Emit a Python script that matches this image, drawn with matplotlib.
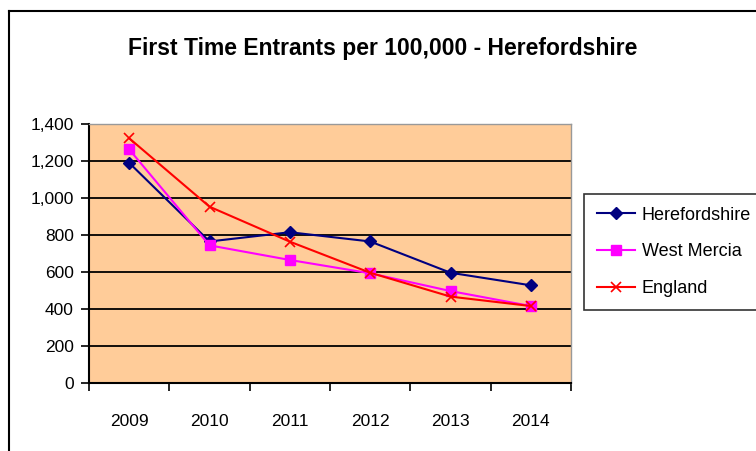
import numpy as np
import matplotlib
matplotlib.use('Agg')
import matplotlib.pyplot as plt
from matplotlib.lines import Line2D
from matplotlib.ticker import FuncFormatter, FixedLocator

plt.rcParams['font.family'] = ['Liberation Sans', 'DejaVu Sans']

years = ['2009', '2010', '2011', '2012', '2013', '2014']
herefordshire = [1190, 765, 815, 765, 596, 528]
west_mercia = [1263, 744, 665, 593, 497, 416]
england = [1323, 953, 764, 596, 467, 416]

fig = plt.figure(figsize=(7.56, 4.51), dpi=100)
ax = fig.add_axes([89 / 756, 1 - 383 / 451, 482 / 756, 259 / 451])

x = np.arange(len(years))
ax.set_facecolor('#FFCC99')
ax.plot(x, herefordshire, color='#000080', marker='D', markersize=6.5, lw=1.5, label='Herefordshire', zorder=4)
ax.plot(x, west_mercia, color='#FF00FF', marker='s', markersize=6.5, lw=1.5, label='West Mercia', zorder=4)
ax.plot(x, england, color='#FF0000', marker='x', markersize=7, mew=1.2, lw=1.5, label='England', zorder=5)

ax.set_xlim(-0.5, len(years) - 0.5)
ax.set_ylim(0, 1400)
ax.set_yticks(range(0, 1401, 200))
ax.yaxis.set_major_formatter(FuncFormatter(lambda v, p: f'{int(v):,}'))
ax.yaxis.grid(True, color='black', lw=1.3)
ax.set_axisbelow(True)

ax.xaxis.set_major_locator(FixedLocator(np.arange(-0.5, len(years), 1.0)))
ax.xaxis.set_major_formatter(FuncFormatter(lambda v, p: ''))
ax.xaxis.set_minor_locator(FixedLocator(x))
ax.set_xticklabels(years, minor=True)
ax.tick_params(axis='x', which='minor', length=0, pad=22, labelsize=12.5)
ax.tick_params(axis='x', which='major', length=6, width=1.2, direction='out')
ax.tick_params(axis='y', length=6, width=1.2, direction='out', labelsize=12.5, pad=5)

for s in ['top', 'right']:
    ax.spines[s].set_color('#999999')
    ax.spines[s].set_linewidth(1)
for s in ['left', 'bottom']:
    ax.spines[s].set_color('black')
    ax.spines[s].set_linewidth(1.5)

fig.text(383 / 756, 1 - 48 / 451, 'First Time Entrants per 100,000 - Herefordshire',
         ha='center', va='center', fontsize=16.5, fontweight='bold')

leg = ax.legend(loc='center left', bbox_to_anchor=(584 / 756, 1 - 252 / 451),
                bbox_transform=fig.transFigure, frameon=True, fancybox=False,
                edgecolor='black', fontsize=13, handlelength=2.1, labelspacing=1.1,
                borderpad=0.7, handletextpad=0.4, borderaxespad=0)
leg.get_frame().set_linewidth(1.2)

# outer chart border (left and top only visible)
fig.add_artist(Line2D([9 / 756, 9 / 756], [0, 1 - 11 / 451], transform=fig.transFigure, color='black', lw=1.5))
fig.add_artist(Line2D([9 / 756, 1], [1 - 11 / 451, 1 - 11 / 451], transform=fig.transFigure, color='black', lw=1.5))

fig.savefig('out.png', dpi=100)
